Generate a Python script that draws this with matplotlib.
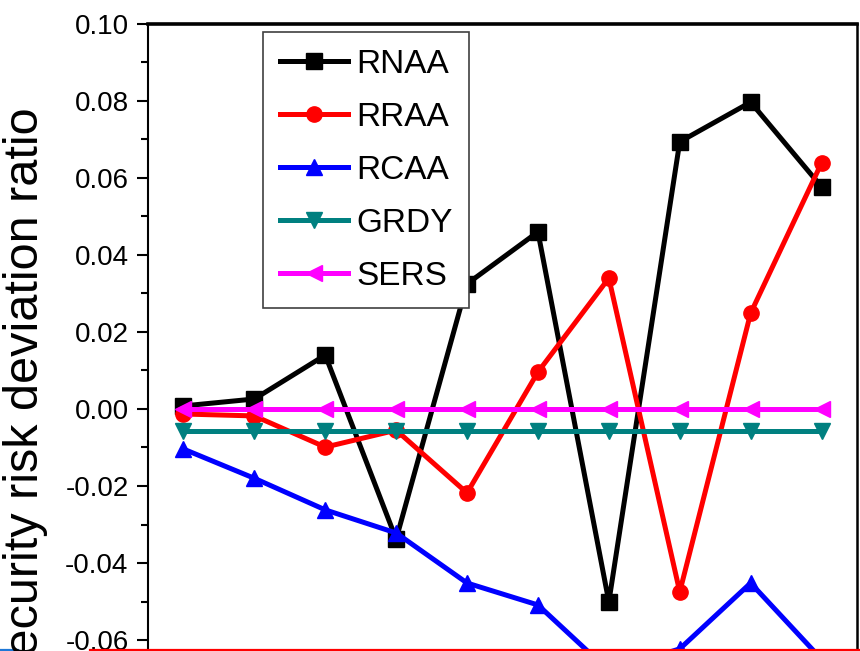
import matplotlib
matplotlib.use("Agg")
import matplotlib.pyplot as plt
from matplotlib.ticker import MultipleLocator, FuncFormatter
from matplotlib.lines import Line2D

# data
x = [1, 2, 3, 4, 5, 6, 7, 8, 9, 10]
rnaa = [0.0008, 0.0026, 0.0140, -0.0338, 0.0325, 0.0460, -0.0501, 0.0694, 0.0797, 0.0577]
rraa = [-0.0013, -0.0018, -0.0099, -0.0055, -0.0218, 0.0096, 0.0340, -0.0475, 0.0249, 0.0639]
rcaa = [-0.0104, -0.0180, -0.0262, -0.0322, -0.0452, -0.0509, -0.0680, -0.0623, -0.0452, -0.0650]
grdy = [-0.0057] * 10
sers = [0.0] * 10

series = [
    ("RNAA", rnaa, "black", "s"),
    ("RRAA", rraa, "#ff0000", "o"),
    ("RCAA", rcaa, "#0000ff", "^"),
    ("GRDY", grdy, "#008080", "v"),
    ("SERS", sers, "#ff00ff", "<"),
]

plt.rcParams["font.family"] = ["Liberation Sans", "DejaVu Sans"]

W, H = 860, 651
fig = plt.figure(figsize=(W / 100, H / 100), dpi=100)

# axes runs off the bottom of the picture, like the cropped original
left, right, top = 148 / W, 857 / W, 1 - 24 / H
bottom = 1 - 794 / H
ax = fig.add_axes([left, bottom, right - left, top - bottom])

for name, vals, col, mk in series:
    ax.plot(x, vals, color=col, marker=mk, lw=3.6, ms=11, label=name)


def fmt(v, pos):
    if abs(v) < 1e-9:
        return "0.00"
    return "%.2f" % v


ax.set_xlim(0.5, 10.5)
ax.set_ylim(-0.10, 0.10)
ax.yaxis.set_major_locator(MultipleLocator(0.02))
ax.yaxis.set_minor_locator(MultipleLocator(0.01))
ax.yaxis.set_major_formatter(FuncFormatter(fmt))
ax.tick_params(axis="y", which="major", direction="out", length=8, width=1.5,
               labelsize=20, pad=6)
ax.tick_params(axis="y", which="minor", direction="out", length=5, width=1.5)
ax.tick_params(axis="x", which="both", bottom=False, labelbottom=False)

ax.spines["top"].set_linewidth(2.6)
ax.spines["left"].set_linewidth(1.5)
ax.spines["right"].set_linewidth(1.8)
ax.spines["bottom"].set_linewidth(1.8)

leg = ax.legend(loc="upper left", bbox_to_anchor=(263 / W, 1 - 32 / H),
                bbox_transform=fig.transFigure, borderaxespad=0,
                fancybox=False, framealpha=1, edgecolor="#404040",
                handlelength=2.05, handletextpad=0.25, labelspacing=0.66,
                borderpad=0.5, prop={"size": 24})
leg.get_frame().set_linewidth(1.2)

fig.text(26 / W, 1 - 398 / H, "Security risk deviation ratio", rotation=90,
         ha="center", va="center", fontsize=35)

# stray lines at the bottom edge of the screenshot
fig.add_artist(Line2D([90 / W, 1], [1 - 650 / H] * 2, color="#ff0000", lw=1.6,
                      transform=fig.transFigure))
fig.add_artist(Line2D([0, 18 / W], [1 - 650 / H] * 2, color="#1e78d7", lw=1.6,
                      transform=fig.transFigure))

fig.savefig("out.png", dpi=100)
